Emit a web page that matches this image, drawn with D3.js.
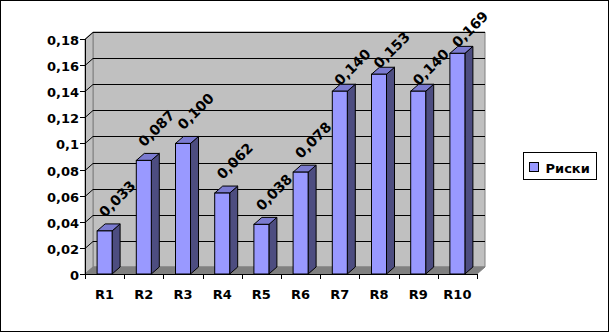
<!DOCTYPE html>
<html>
<head>
<meta charset="utf-8">
<script src="https://cdn.jsdelivr.net/npm/d3@7"></script>
<style>
  body { margin: 0; background: white; }
  text { font-family: "DejaVu Sans", sans-serif; font-weight: bold; font-size: 13px; fill: black; }
</style>
</head>
<body>
<div id="container"></div>
<script>
let w = 610;
let h = 333;

// data
let categories = ["R1", "R2", "R3", "R4", "R5", "R6", "R7", "R8", "R9", "R10"];
let risks = [0.033, 0.087, 0.100, 0.062, 0.038, 0.078, 0.140, 0.153, 0.140, 0.169];
let yTicks = [0, 0.02, 0.04, 0.06, 0.08, 0.1, 0.12, 0.14, 0.16, 0.18];
let seriesName = "Риски";

// 3d depth offset
let dx = 8;
let dy = -7;

let viz = d3.select("#container")
  .append("svg")
    .attr("width", w)
    .attr("height", h)
;

viz.append("rect")
    .attr("x", 0.5)
    .attr("y", 0.5)
    .attr("width", 608)
    .attr("height", 331)
    .attr("fill", "white")
    .style("stroke", "black")
    .style("stroke-width", 1)
;

let x = d3.scaleBand()
    .domain(categories)
    .range([85, 477]);

let y = d3.scaleLinear()
    .domain([0, 0.18])
    .range([274, 39]);

let x0 = x.range()[0];
let x1 = x.range()[1];
let y0 = y(0);
let yTop = y(0.18);

function pts(arr){
  return arr.map(p => p.join(",")).join(" ");
}

// walls
viz.append("polygon")
    .attr("points", pts([[x0 + dx, yTop + dy], [x1 + dx, yTop + dy], [x1 + dx, y0 + dy], [x0 + dx, y0 + dy]]))
    .attr("fill", "#c0c0c0")
    .style("stroke", "#808080")
;

viz.append("polygon")
    .attr("points", pts([[x0, yTop], [x0 + dx, yTop + dy], [x0 + dx, y0 + dy], [x0, y0]]))
    .attr("fill", "#c0c0c0")
    .style("stroke", "#808080")
;

viz.append("polygon")
    .attr("points", pts([[x0, y0], [x0 + dx, y0 + dy], [x1 + dx, y0 + dy], [x1, y0]]))
    .attr("fill", "#808080")
    .style("stroke", "#808080")
;

// gridlines
let grid = viz.append("g").attr("class", "grid");
yTicks.filter(d => d > 0).forEach(function(d){
  let yy = Math.round(y(d)) + 0.5;
  grid.append("path")
      .attr("d", "M " + x0 + " " + yy + " L " + (x0 + dx) + " " + (yy + dy) + " L " + (x1 + dx) + " " + (yy + dy))
      .attr("fill", "none")
      .style("stroke", "black")
      .style("stroke-width", 1)
  ;
});

// bars
let barW = 15;
let bars = viz.selectAll(".bar")
  .data(risks)
  .enter()
  .append("g")
    .attr("class", "bar");

bars.append("polygon")
    .attr("points", function(d, i){
      let c = x(categories[i]) + x.bandwidth() / 2;
      let r = c + barW / 2, t = y(d);
      return pts([[r, t], [r + dx, t + dy], [r + dx, y0 + dy], [r, y0]]);
    })
    .attr("fill", "#4d4d80")
    .style("stroke", "black")
    .style("stroke-width", 1)
;

bars.append("polygon")
    .attr("points", function(d, i){
      let c = x(categories[i]) + x.bandwidth() / 2;
      let l = c - barW / 2, r = c + barW / 2, t = y(d);
      return pts([[l, t], [l + dx, t + dy], [r + dx, t + dy], [r, t]]);
    })
    .attr("fill", "#7b7bd0")
    .style("stroke", "black")
    .style("stroke-width", 1)
;

bars.append("rect")
    .attr("x", (d, i) => x(categories[i]) + x.bandwidth() / 2 - barW / 2)
    .attr("y", d => y(d))
    .attr("width", barW)
    .attr("height", d => y0 - y(d))
    .attr("fill", "#9999ff")
    .style("stroke", "black")
    .style("stroke-width", 1)
;

// data labels (tall bars get pushed down, like excel does near the top)
let fmt = d3.format(".3f");
bars.append("text")
    .text(d => fmt(d).replace(".", ","))
    .style("font-size", "14px")
    .attr("transform", function(d, i){
      let l = x(categories[i]) + x.bandwidth() / 2 - barW / 2;
      let off = d >= 0.14 ? 5 : 13;
      return "translate(" + (l + 8) + "," + (y(d) - off) + ") rotate(-45)";
    })
;

// y axis
viz.append("line")
    .attr("x1", x0 + 0.5)
    .attr("y1", yTop)
    .attr("x2", x0 + 0.5)
    .attr("y2", y0)
    .style("stroke", "black")
;

let yAxis = viz.append("g");
yTicks.forEach(function(d){
  let yy = Math.round(y(d)) + 0.5;
  yAxis.append("line")
      .attr("x1", x0 - 5)
      .attr("y1", yy)
      .attr("x2", x0)
      .attr("y2", yy)
      .style("stroke", "black")
  ;
  yAxis.append("text")
      .text(String(d).replace(".", ","))
      .attr("x", x0 - 6)
      .attr("y", yy + 5)
      .attr("text-anchor", "end")
  ;
});

// x axis
viz.append("line")
    .attr("x1", x0)
    .attr("y1", y0 + 0.5)
    .attr("x2", x1)
    .attr("y2", y0 + 0.5)
    .style("stroke", "black")
;

let xAxis = viz.append("g");
categories.forEach(function(c, i){
  let xx = Math.round(x(c)) + 0.5;
  xAxis.append("line")
      .attr("x1", xx)
      .attr("y1", y0)
      .attr("x2", xx)
      .attr("y2", y0 + 5)
      .style("stroke", "black")
  ;
  xAxis.append("text")
      .text(c)
      .attr("x", x(c) + x.bandwidth() / 2)
      .attr("y", 299)
      .attr("text-anchor", "middle")
  ;
});
xAxis.append("line")
    .attr("x1", x1 + 0.5)
    .attr("y1", y0)
    .attr("x2", x1 + 0.5)
    .attr("y2", y0 + 5)
    .style("stroke", "black")
;

// legend
let legend = viz.append("g").attr("transform", "translate(523.5,152.5)");
legend.append("rect")
    .attr("width", 73)
    .attr("height", 27)
    .attr("fill", "white")
    .style("stroke", "black")
;
legend.append("rect")
    .attr("x", 6)
    .attr("y", 10)
    .attr("width", 9)
    .attr("height", 9)
    .attr("fill", "#9999ff")
    .style("stroke", "black")
;
legend.append("text")
    .text(seriesName)
    .attr("x", 22)
    .attr("y", 20)
;
</script>
</body>
</html>
